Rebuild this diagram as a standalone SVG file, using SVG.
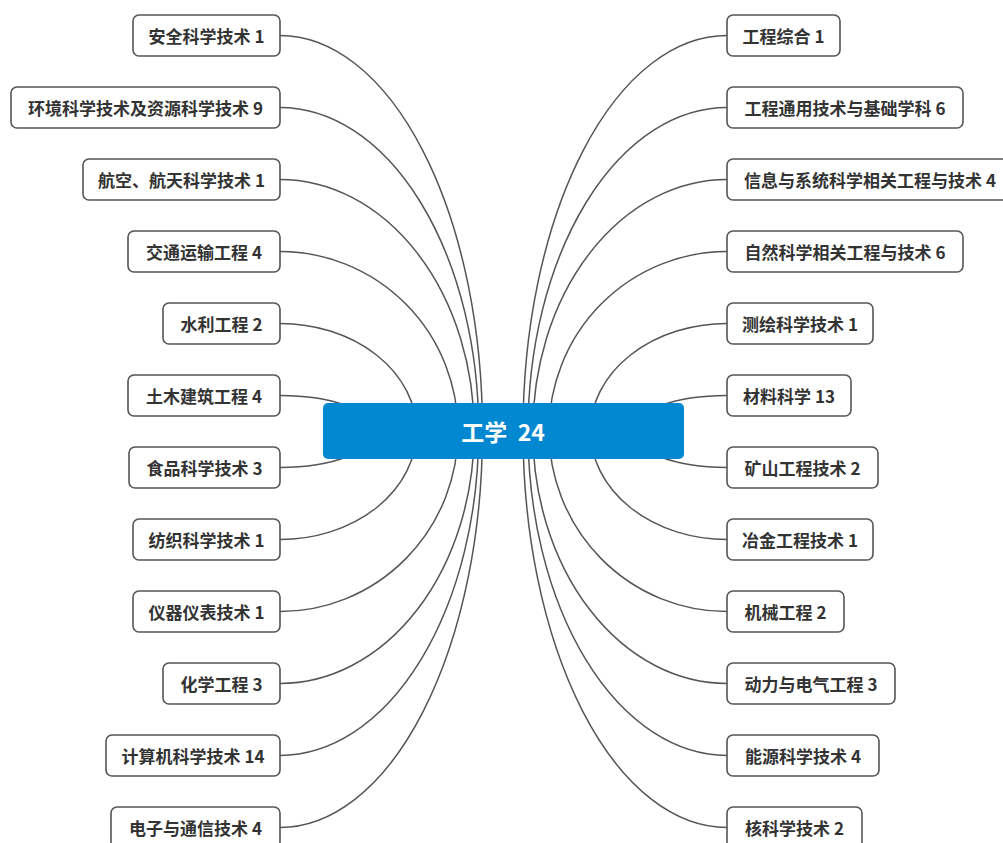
<svg xmlns="http://www.w3.org/2000/svg" width="1003" height="843" viewBox="0 0 1003 843">
<style>
.bg{fill:#ffffff}
.lk{fill:none;stroke:#555555;stroke-width:1.5}
.box{fill:#ffffff;stroke:#555555;stroke-width:1.6}
.lbl{font-family:"Noto Sans CJK SC","Noto Sans",sans-serif;font-size:17px;font-weight:700;fill:#333333;text-anchor:middle;dominant-baseline:central}
.root{fill:#0288d1}
.rlbl{font-family:"Noto Sans CJK SC","Noto Sans",sans-serif;font-size:23px;font-weight:700;fill:#ffffff;text-anchor:middle;dominant-baseline:central}
</style>
<rect class="bg" x="0" y="0" width="1003" height="843"/>
<g id="connectors">
<path class="lk" d="M280 35.5 A202.5 395.5 0 0 1 482.5 431"/>
<path class="lk" d="M280 107.5 A198.7 323.5 0 0 1 478.7 431"/>
<path class="lk" d="M280 179.5 A194.2 251.5 0 0 1 474.2 431"/>
<path class="lk" d="M280 251.5 A178 179.5 0 0 1 458 431"/>
<path class="lk" d="M280 323.5 A136.5 107.5 0 0 1 416.5 431"/>
<path class="lk" d="M280 395.5 A95 35.5 0 0 1 375 431"/>
<path class="lk" d="M280 467.5 A95 36.5 0 0 0 375 431"/>
<path class="lk" d="M280 539.5 A136.5 108.5 0 0 0 416.5 431"/>
<path class="lk" d="M280 611.5 A178 180.5 0 0 0 458 431"/>
<path class="lk" d="M280 683.5 A194.2 252.5 0 0 0 474.2 431"/>
<path class="lk" d="M280 755.5 A198.7 324.5 0 0 0 478.7 431"/>
<path class="lk" d="M280 827.5 A202.5 396.5 0 0 0 482.5 431"/>
<path class="lk" d="M727 35.5 A204 395.5 0 0 0 523 431"/>
<path class="lk" d="M727 107.5 A199 323.5 0 0 0 528 431"/>
<path class="lk" d="M727 179.5 A194.2 251.5 0 0 0 532.8 431"/>
<path class="lk" d="M727 251.5 A178 179.5 0 0 0 549 431"/>
<path class="lk" d="M727 323.5 A136.5 107.5 0 0 0 590.5 431"/>
<path class="lk" d="M727 395.5 A95 35.5 0 0 0 632 431"/>
<path class="lk" d="M727 467.5 A95 36.5 0 0 1 632 431"/>
<path class="lk" d="M727 539.5 A136.5 108.5 0 0 1 590.5 431"/>
<path class="lk" d="M727 611.5 A178 180.5 0 0 1 549 431"/>
<path class="lk" d="M727 683.5 A194.2 252.5 0 0 1 532.8 431"/>
<path class="lk" d="M727 755.5 A199 324.5 0 0 1 528 431"/>
<path class="lk" d="M727 827.5 A204 396.5 0 0 1 523 431"/>
</g>
<g id="root"><rect class="root" x="323" y="403" width="361" height="56" rx="5"/><text class="rlbl" x="503" y="431" xml:space="preserve">工学  24</text></g>
<g id="L1"><rect class="box" x="133" y="15" width="147" height="41" rx="6"/><text class="lbl" x="206.5" y="35.5">安全科学技术 1</text></g>
<g id="L2"><rect class="box" x="11" y="87" width="269" height="41" rx="6"/><text class="lbl" x="145.5" y="107.5">环境科学技术及资源科学技术 9</text></g>
<g id="L3"><rect class="box" x="83" y="159" width="197" height="41" rx="6"/><text class="lbl" x="181.5" y="179.5">航空、航天科学技术 1</text></g>
<g id="L4"><rect class="box" x="128" y="231" width="152" height="41" rx="6"/><text class="lbl" x="204" y="251.5">交通运输工程 4</text></g>
<g id="L5"><rect class="box" x="163" y="303" width="117" height="41" rx="6"/><text class="lbl" x="221.5" y="323.5">水利工程 2</text></g>
<g id="L6"><rect class="box" x="128" y="375" width="152" height="41" rx="6"/><text class="lbl" x="204" y="395.5">土木建筑工程 4</text></g>
<g id="L7"><rect class="box" x="129" y="447" width="151" height="41" rx="6"/><text class="lbl" x="204.5" y="467.5">食品科学技术 3</text></g>
<g id="L8"><rect class="box" x="133" y="519" width="147" height="41" rx="6"/><text class="lbl" x="206.5" y="539.5">纺织科学技术 1</text></g>
<g id="L9"><rect class="box" x="133" y="591" width="147" height="41" rx="6"/><text class="lbl" x="206.5" y="611.5">仪器仪表技术 1</text></g>
<g id="L10"><rect class="box" x="163" y="663" width="117" height="41" rx="6"/><text class="lbl" x="221.5" y="683.5">化学工程 3</text></g>
<g id="L11"><rect class="box" x="106" y="735" width="174" height="41" rx="6"/><text class="lbl" x="193" y="755.5">计算机科学技术 14</text></g>
<g id="L12"><rect class="box" x="111" y="807" width="169" height="41" rx="6"/><text class="lbl" x="195.5" y="827.5">电子与通信技术 4</text></g>
<g id="R1"><rect class="box" x="727" y="15" width="113" height="41" rx="6"/><text class="lbl" x="783.5" y="35.5">工程综合 1</text></g>
<g id="R2"><rect class="box" x="727" y="87" width="236" height="41" rx="6"/><text class="lbl" x="845" y="107.5">工程通用技术与基础学科 6</text></g>
<g id="R3"><rect class="box" x="727" y="159" width="286" height="41" rx="6"/><text class="lbl" x="870" y="179.5">信息与系统科学相关工程与技术 4</text></g>
<g id="R4"><rect class="box" x="727" y="231" width="236" height="41" rx="6"/><text class="lbl" x="845" y="251.5">自然科学相关工程与技术 6</text></g>
<g id="R5"><rect class="box" x="727" y="303" width="146" height="41" rx="6"/><text class="lbl" x="800" y="323.5">测绘科学技术 1</text></g>
<g id="R6"><rect class="box" x="727" y="375" width="124" height="41" rx="6"/><text class="lbl" x="789" y="395.5">材料科学 13</text></g>
<g id="R7"><rect class="box" x="727" y="447" width="151" height="41" rx="6"/><text class="lbl" x="802.5" y="467.5">矿山工程技术 2</text></g>
<g id="R8"><rect class="box" x="727" y="519" width="146" height="41" rx="6"/><text class="lbl" x="800" y="539.5">冶金工程技术 1</text></g>
<g id="R9"><rect class="box" x="727" y="591" width="117" height="41" rx="6"/><text class="lbl" x="785.5" y="611.5">机械工程 2</text></g>
<g id="R10"><rect class="box" x="727" y="663" width="168" height="41" rx="6"/><text class="lbl" x="811" y="683.5">动力与电气工程 3</text></g>
<g id="R11"><rect class="box" x="727" y="735" width="152" height="41" rx="6"/><text class="lbl" x="803" y="755.5">能源科学技术 4</text></g>
<g id="R12"><rect class="box" x="727" y="807" width="135" height="41" rx="6"/><text class="lbl" x="794.5" y="827.5">核科学技术 2</text></g>
</svg>
